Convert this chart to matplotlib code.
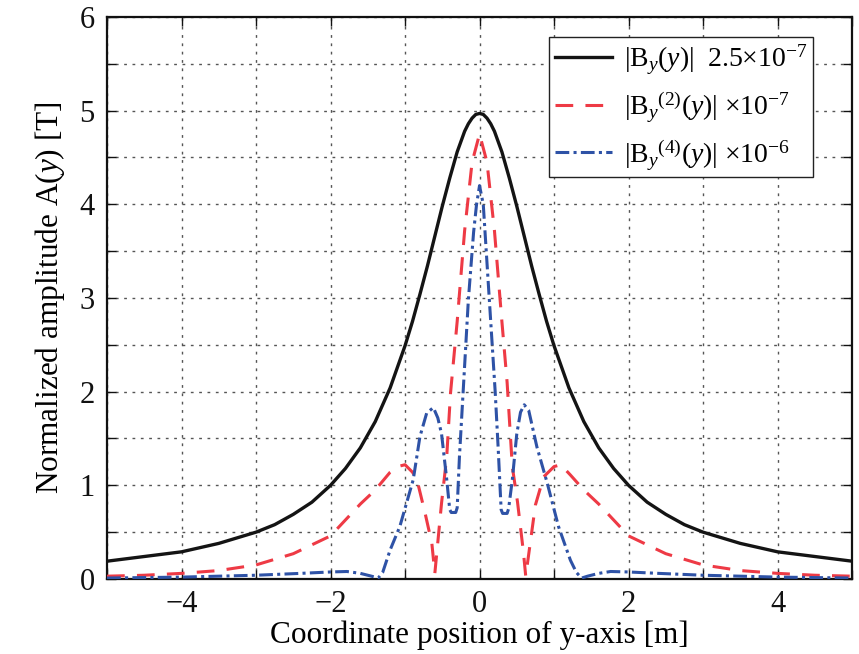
import matplotlib
matplotlib.use("Agg")
import matplotlib.pyplot as plt
from matplotlib.ticker import MultipleLocator

plt.rcParams['font.family'] = ['Liberation Serif', 'DejaVu Serif']
plt.rcParams['mathtext.fontset'] = 'custom'
plt.rcParams['mathtext.rm'] = 'Liberation Serif'
plt.rcParams['mathtext.it'] = 'Liberation Serif:italic'
plt.rcParams['mathtext.bf'] = 'Liberation Serif:bold'

# ---- data ----
x_b0 = [-5.0, -4.5, -4.0, -3.5, -3.0, -2.75, -2.5, -2.25, -2.0, -1.8, -1.6, -1.4, -1.2,
        -1.0, -0.9, -0.8, -0.7, -0.6, -0.5, -0.4, -0.3, -0.2, -0.15, -0.1, -0.05, 0.0,
        0.05, 0.1, 0.15, 0.2, 0.3, 0.4, 0.5, 0.6, 0.7, 0.8, 0.9, 1.0, 1.2, 1.4, 1.6, 1.8,
        2.0, 2.25, 2.5, 2.75, 3.0, 3.5, 4.0, 4.5, 5.0]
b0 = [0.19, 0.24, 0.29, 0.38, 0.50, 0.58, 0.69, 0.82, 1.00, 1.18, 1.40, 1.68, 2.04,
      2.49, 2.75, 3.04, 3.34, 3.66, 3.98, 4.28, 4.56, 4.78, 4.86, 4.92, 4.96, 4.97,
      4.96, 4.92, 4.86, 4.78, 4.56, 4.28, 3.98, 3.66, 3.34, 3.04, 2.75, 2.49, 2.04, 1.68, 1.40, 1.18,
      1.00, 0.82, 0.69, 0.58, 0.50, 0.38, 0.29, 0.24, 0.19]

x_b2 = [-5.0, -4.5, -4.0, -3.5, -3.0, -2.5, -2.0, -1.8, -1.6, -1.4, -1.2, -1.1, -1.0,
        -0.9, -0.84, -0.73, -0.64, -0.60, -0.51, -0.44, -0.39, -0.3, -0.2, -0.1, 0.0,
        0.1, 0.2, 0.3, 0.37, 0.44, 0.51, 0.59, 0.62, 0.75, 0.86, 1.0, 1.09, 1.22,
        1.4, 1.6, 1.8, 2.0, 2.5, 3.0, 3.5, 4.0, 4.5, 5.0]
b2 = [0.03, 0.04, 0.06, 0.09, 0.15, 0.27, 0.46, 0.63, 0.80, 0.95, 1.14, 1.20, 1.22,
      1.14, 1.06, 0.70, 0.38, 0.06, 0.81, 1.31, 1.98, 2.75, 3.72, 4.45, 4.75,
      4.45, 3.72, 2.75, 2.10, 1.20, 0.82, 0.28, 0.03, 0.79, 1.09, 1.20, 1.22, 1.11,
      0.95, 0.80, 0.63, 0.46, 0.27, 0.15, 0.09, 0.06, 0.04, 0.03]

x_b4 = [-5.0, -4.0, -3.0, -2.4, -2.0, -1.78, -1.6, -1.45, -1.36, -1.3, -1.2, -1.07,
        -0.89, -0.8, -0.71, -0.62, -0.56, -0.51, -0.44, -0.40, -0.38, -0.32, -0.30,
        -0.27, -0.22, -0.15, -0.08, -0.04, 0.0,
        0.05, 0.13, 0.21, 0.25, 0.29, 0.31, 0.37, 0.39, 0.44, 0.50, 0.55, 0.60, 0.66,
        0.77, 0.91, 1.06, 1.22, 1.30, 1.37, 1.45, 1.6, 1.76, 2.0, 2.4, 3.0, 4.0, 5.0]
b4 = [0.01, 0.02, 0.04, 0.06, 0.075, 0.08, 0.06, 0.03, 0.01, 0.07, 0.31, 0.56,
      1.06, 1.52, 1.77, 1.83, 1.72, 1.55, 1.06, 0.74, 0.71, 0.71, 0.76,
      1.30, 2.00, 2.98, 3.70, 4.00, 4.20,
      4.00, 3.00, 2.00, 1.40, 0.74, 0.70, 0.70, 0.75, 1.06, 1.55, 1.78, 1.86, 1.80,
      1.41, 1.02, 0.56, 0.20, 0.07, 0.01, 0.03, 0.06, 0.08, 0.075, 0.06, 0.04, 0.02, 0.01]

labels = [r'$|\mathrm{B}_{y}(y)|\ \ 2.5{\times}10^{-7}$',
          r'$|\mathrm{B}_{y}{}^{(2)}(y)|\ {\times}10^{-7}$',
          r'$|\mathrm{B}_{y}{}^{(4)}(y)|\ {\times}10^{-6}$']
xticks = [-4, -2, 0, 2, 4]
yticks = [0, 1, 2, 3, 4, 5, 6]

fig = plt.figure(figsize=(8.59, 6.54), dpi=100)
ax = fig.add_axes([0.1246, 0.1147, 0.8673, 0.8593])

ax.plot(x_b0, b0, color='#141414', lw=2.4, label=labels[0], zorder=4)
ax.plot(x_b2, b2, color='#EE3A45', lw=2.2, ls=(0, (5.8, 4.0)), label=labels[1], zorder=3)
ax.plot(x_b4, b4, color='#2E52A6', lw=2.2, ls=(0, (4.5, 1.4, 1.0, 1.4)), label=labels[2], zorder=3)

ax.set_xlim(-5, 5)
ax.set_ylim(0, 6)
ax.set_xticks(xticks)
ax.set_yticks(yticks)
ax.xaxis.set_minor_locator(MultipleLocator(1))
ax.yaxis.set_minor_locator(MultipleLocator(0.5))
ax.set_xticklabels([('\u2212' + str(abs(t))) if t < 0 else str(t) for t in xticks])

ax.tick_params(which='both', direction='in', top=True, right=True, width=1.0,
               length=6.5, labelsize=22, colors='#111111')
ax.tick_params(axis='x', pad=8)
ax.tick_params(axis='y', pad=9)
ax.grid(True, which='both', color='#555555', lw=1.0, ls=(0, (2, 4)))
for s in ax.spines.values():
    s.set_linewidth(1.6)
    s.set_color('#111111')

ax.set_xlabel('Coordinate position of y-axis [m]', fontsize=22.5, labelpad=1)
ax.set_ylabel(r'Normalized amplitude A($y$) [T]', fontsize=22.5, labelpad=9)

leg = ax.legend(loc='upper right', bbox_to_anchor=(0.948, 0.964), fontsize=20,
                frameon=True, fancybox=False, framealpha=1, edgecolor='#222222',
                handlelength=2.05, handletextpad=0.45, borderpad=0.2, labelspacing=0.45,
                borderaxespad=0)
leg.get_frame().set_linewidth(1.0)

fig.savefig('out.png', dpi=100)
